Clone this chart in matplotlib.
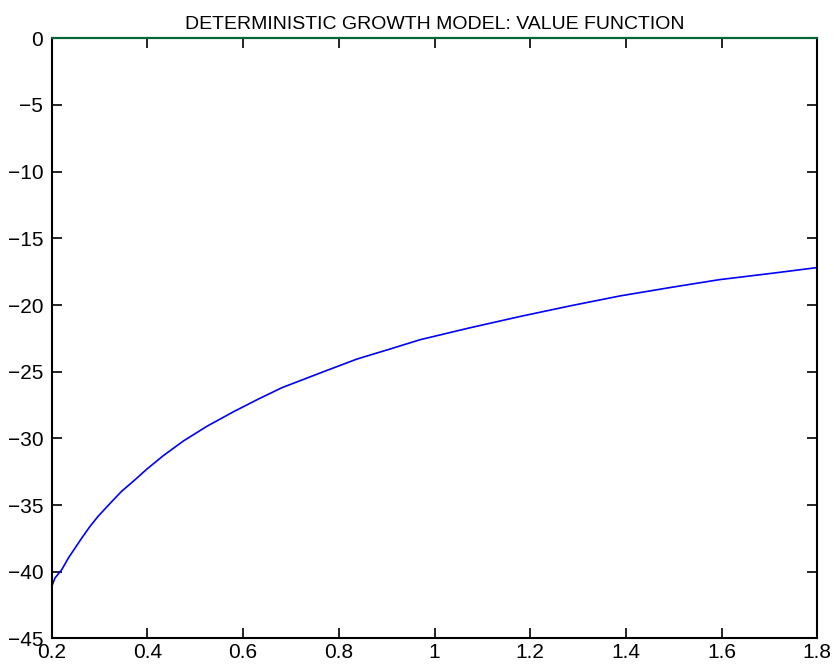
import matplotlib.pyplot as plt

# capital stock grid and value function
k = [0.200, 0.207, 0.221, 0.235, 0.249, 0.263, 0.280, 0.297, 0.326, 0.346,
     0.371, 0.399, 0.433, 0.475, 0.524, 0.580, 0.632, 0.681, 0.768, 0.838,
     0.907, 0.970, 1.075, 1.180, 1.284, 1.389, 1.494, 1.595, 1.710, 1.800]
v = [-41.1, -40.46, -39.84, -38.96, -38.21, -37.46, -36.6, -35.84, -34.72, -33.97,
     -33.2, -32.3, -31.3, -30.2, -29.1, -28.0, -27.05, -26.2, -25.0, -24.05,
     -23.3, -22.6, -21.7, -20.85, -20.06, -19.31, -18.68, -18.1, -17.6, -17.19]
# second series: zero line along the top
k0 = [0.2, 1.8]
v0 = [0, 0]

plt.rcParams['font.family'] = ['Liberation Sans', 'DejaVu Sans']

fig = plt.figure(figsize=(8.34, 6.72), dpi=100)
ax = fig.add_axes([0.062, 0.05, 0.918, 0.893])

ax.plot(k, v, color='blue', linewidth=1.2)
ax.plot(k0, v0, color=(0, 0.4, 0.2), linewidth=1.5, clip_on=False, zorder=3)

ax.set_xlim(0.2, 1.8)
ax.set_ylim(-45, 0)
ax.set_xticks([0.2, 0.4, 0.6, 0.8, 1, 1.2, 1.4, 1.6, 1.8])
ax.set_xticklabels(['0.2', '0.4', '0.6', '0.8', '1', '1.2', '1.4', '1.6', '1.8'])
ax.set_yticks(range(-45, 1, 5))
ax.set_yticklabels(['\u221245', '\u221240', '\u221235', '\u221230', '\u221225',
                    '\u221220', '\u221215', '\u221210', '\u22125', '0'])

ax.tick_params(direction='in', top=True, right=True, length=7, width=1.2,
               labelsize=15)
ax.tick_params(axis='x', pad=3)
ax.tick_params(axis='y', pad=6)
for s in ax.spines.values():
    s.set_linewidth(1.5)

ax.set_title('DETERMINISTIC GROWTH MODEL: VALUE FUNCTION', fontsize=14, pad=7)

fig.savefig('out.png', dpi=100)
